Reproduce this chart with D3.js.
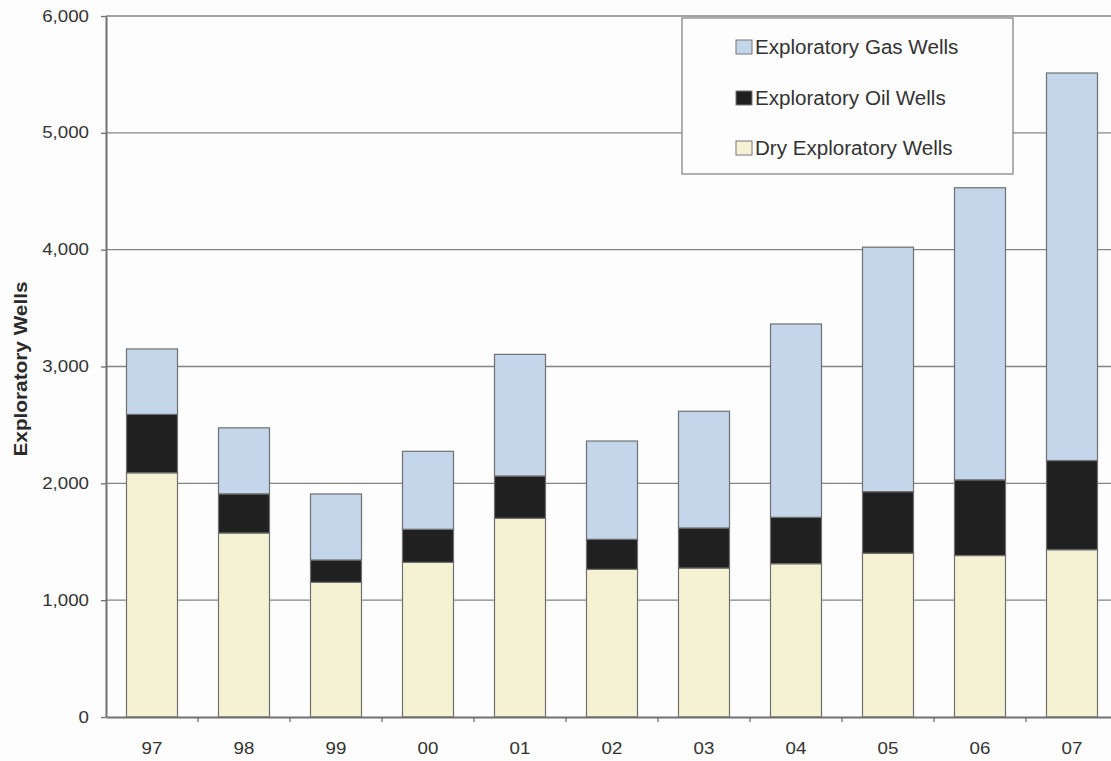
<!DOCTYPE html>
<html><head><meta charset="utf-8">
<script src="https://cdn.jsdelivr.net/npm/d3@7"></script>
<style>
html,body{margin:0;padding:0;background:#fdfdfd;overflow:hidden;}
svg{display:block;font-family:"Liberation Sans",Arial,sans-serif;}
</style></head>
<body>
<svg id="chart" width="1111" height="761"></svg>
<script>
const categories = ["97","98","99","00","01","02","03","04","05","06","07"];
const dryWells = [2090,1575,1153,1324,1701,1264,1275,1312,1402,1382,1432];
const oilWells = [500,335,191,283,362,257,343,397,527,648,763];
const gasWells = [560,565,565,667,1041,841,999,1655,2092,2500,3317];
const yTicks = [0,1000,2000,3000,4000,5000,6000];
const seriesNames = ["Dry Exploratory Wells","Exploratory Oil Wells","Exploratory Gas Wells"];
const seriesColors = ["#f5f2d3","#202020","#c4d6ea"];
const legendOrder = [2,1,0];

(function(){
const svg = d3.select("#chart");
const mLeft = 106, mRight = 1118, mTop = 16, mBottom = 717;
const stretch = 1.17;

const x = d3.scaleBand().domain(categories).range([mLeft, mRight]).paddingInner(0).paddingOuter(0);
const y = d3.scaleLinear().domain([0, 6000]).range([mBottom, mTop]);
const barW = 51;

const rows = categories.map((c,i)=>({cat:c, dry:dryWells[i], oil:oilWells[i], gas:gasWells[i]}));
const stack = d3.stack().keys(["dry","oil","gas"])(rows);

// gridlines
svg.append("g").selectAll("line").data(yTicks.filter(t=>t>0)).join("line")
  .attr("x1", mLeft).attr("x2", 1111)
  .attr("y1", d=>y(d)).attr("y2", d=>y(d))
  .attr("stroke", "#858585").attr("stroke-width", 1.3);

// bars
svg.append("g").selectAll("g").data(stack).join("g")
  .attr("fill", (d,i)=>seriesColors[i])
  .selectAll("rect").data(d=>d).join("rect")
  .attr("x", d=>x(d.data.cat) + (x.bandwidth()-barW)/2)
  .attr("width", barW)
  .attr("y", d=>y(d[1]))
  .attr("height", d=>y(d[0]) - y(d[1]))
  .attr("stroke", "#6f6f6f").attr("stroke-width", 1.2);

// y axis
const yAxis = svg.append("g").attr("transform", `translate(${mLeft},0)`)
  .call(d3.axisLeft(y).tickValues(yTicks).tickFormat(d3.format(",")).tickSize(5).tickSizeOuter(0));
yAxis.select(".domain").attr("stroke", "#707070").attr("stroke-width", 2);
yAxis.selectAll(".tick line").attr("stroke", "#707070").attr("stroke-width", 1.3);
yAxis.selectAll(".tick text").attr("font-size", 16).attr("fill", "#333").attr("x", 0)
  .attr("transform", `translate(-17,0) scale(${stretch},1)`)
  .attr("font-family", "Liberation Sans, Arial, sans-serif");

// x axis
const xAxis = svg.append("g").attr("transform", `translate(0,${mBottom})`)
  .call(d3.axisBottom(x).tickSize(0).tickSizeOuter(0));
xAxis.select(".domain").attr("stroke", "#707070").attr("stroke-width", 2);
xAxis.selectAll(".tick text").attr("font-size", 16).attr("fill", "#333").attr("dy", 0).attr("y", 37)
  .attr("transform", `scale(${stretch},1)`)
  .attr("font-family", "Liberation Sans, Arial, sans-serif");
// x ticks between categories
svg.append("g").selectAll("line").data(categories.slice(1)).join("line")
  .attr("x1", d=>x(d)).attr("x2", d=>x(d))
  .attr("y1", mBottom).attr("y2", mBottom+5)
  .attr("stroke", "#707070").attr("stroke-width", 1.3);

// y axis title
svg.append("text")
  .attr("transform", `translate(27,369) rotate(-90)`)
  .attr("x", -87.5)
  .attr("textLength", 175).attr("lengthAdjust", "spacingAndGlyphs")
  .attr("font-size", 18).attr("font-weight", "bold").attr("fill", "#2a2a2a")
  .text("Exploratory Wells");

// legend
const lg = svg.append("g");
lg.append("rect").attr("x", 682).attr("y", 18).attr("width", 331).attr("height", 156)
  .attr("fill", "#fdfdfd").attr("stroke", "#888").attr("stroke-width", 1.3);
const legendY = [47, 98, 148];
legendOrder.forEach((si, k)=>{
  lg.append("rect").attr("x", 736).attr("y", legendY[k]-7).attr("width", 16).attr("height", 14)
    .attr("fill", seriesColors[si]).attr("stroke", "#777").attr("stroke-width", 1);
  lg.append("text").attr("transform", `translate(755,${legendY[k]}) scale(1.03,1)`)
    .attr("dy", "0.35em")
    .attr("font-size", 20).attr("fill", "#333").text(seriesNames[si]);
});
})();
</script>
</body></html>
